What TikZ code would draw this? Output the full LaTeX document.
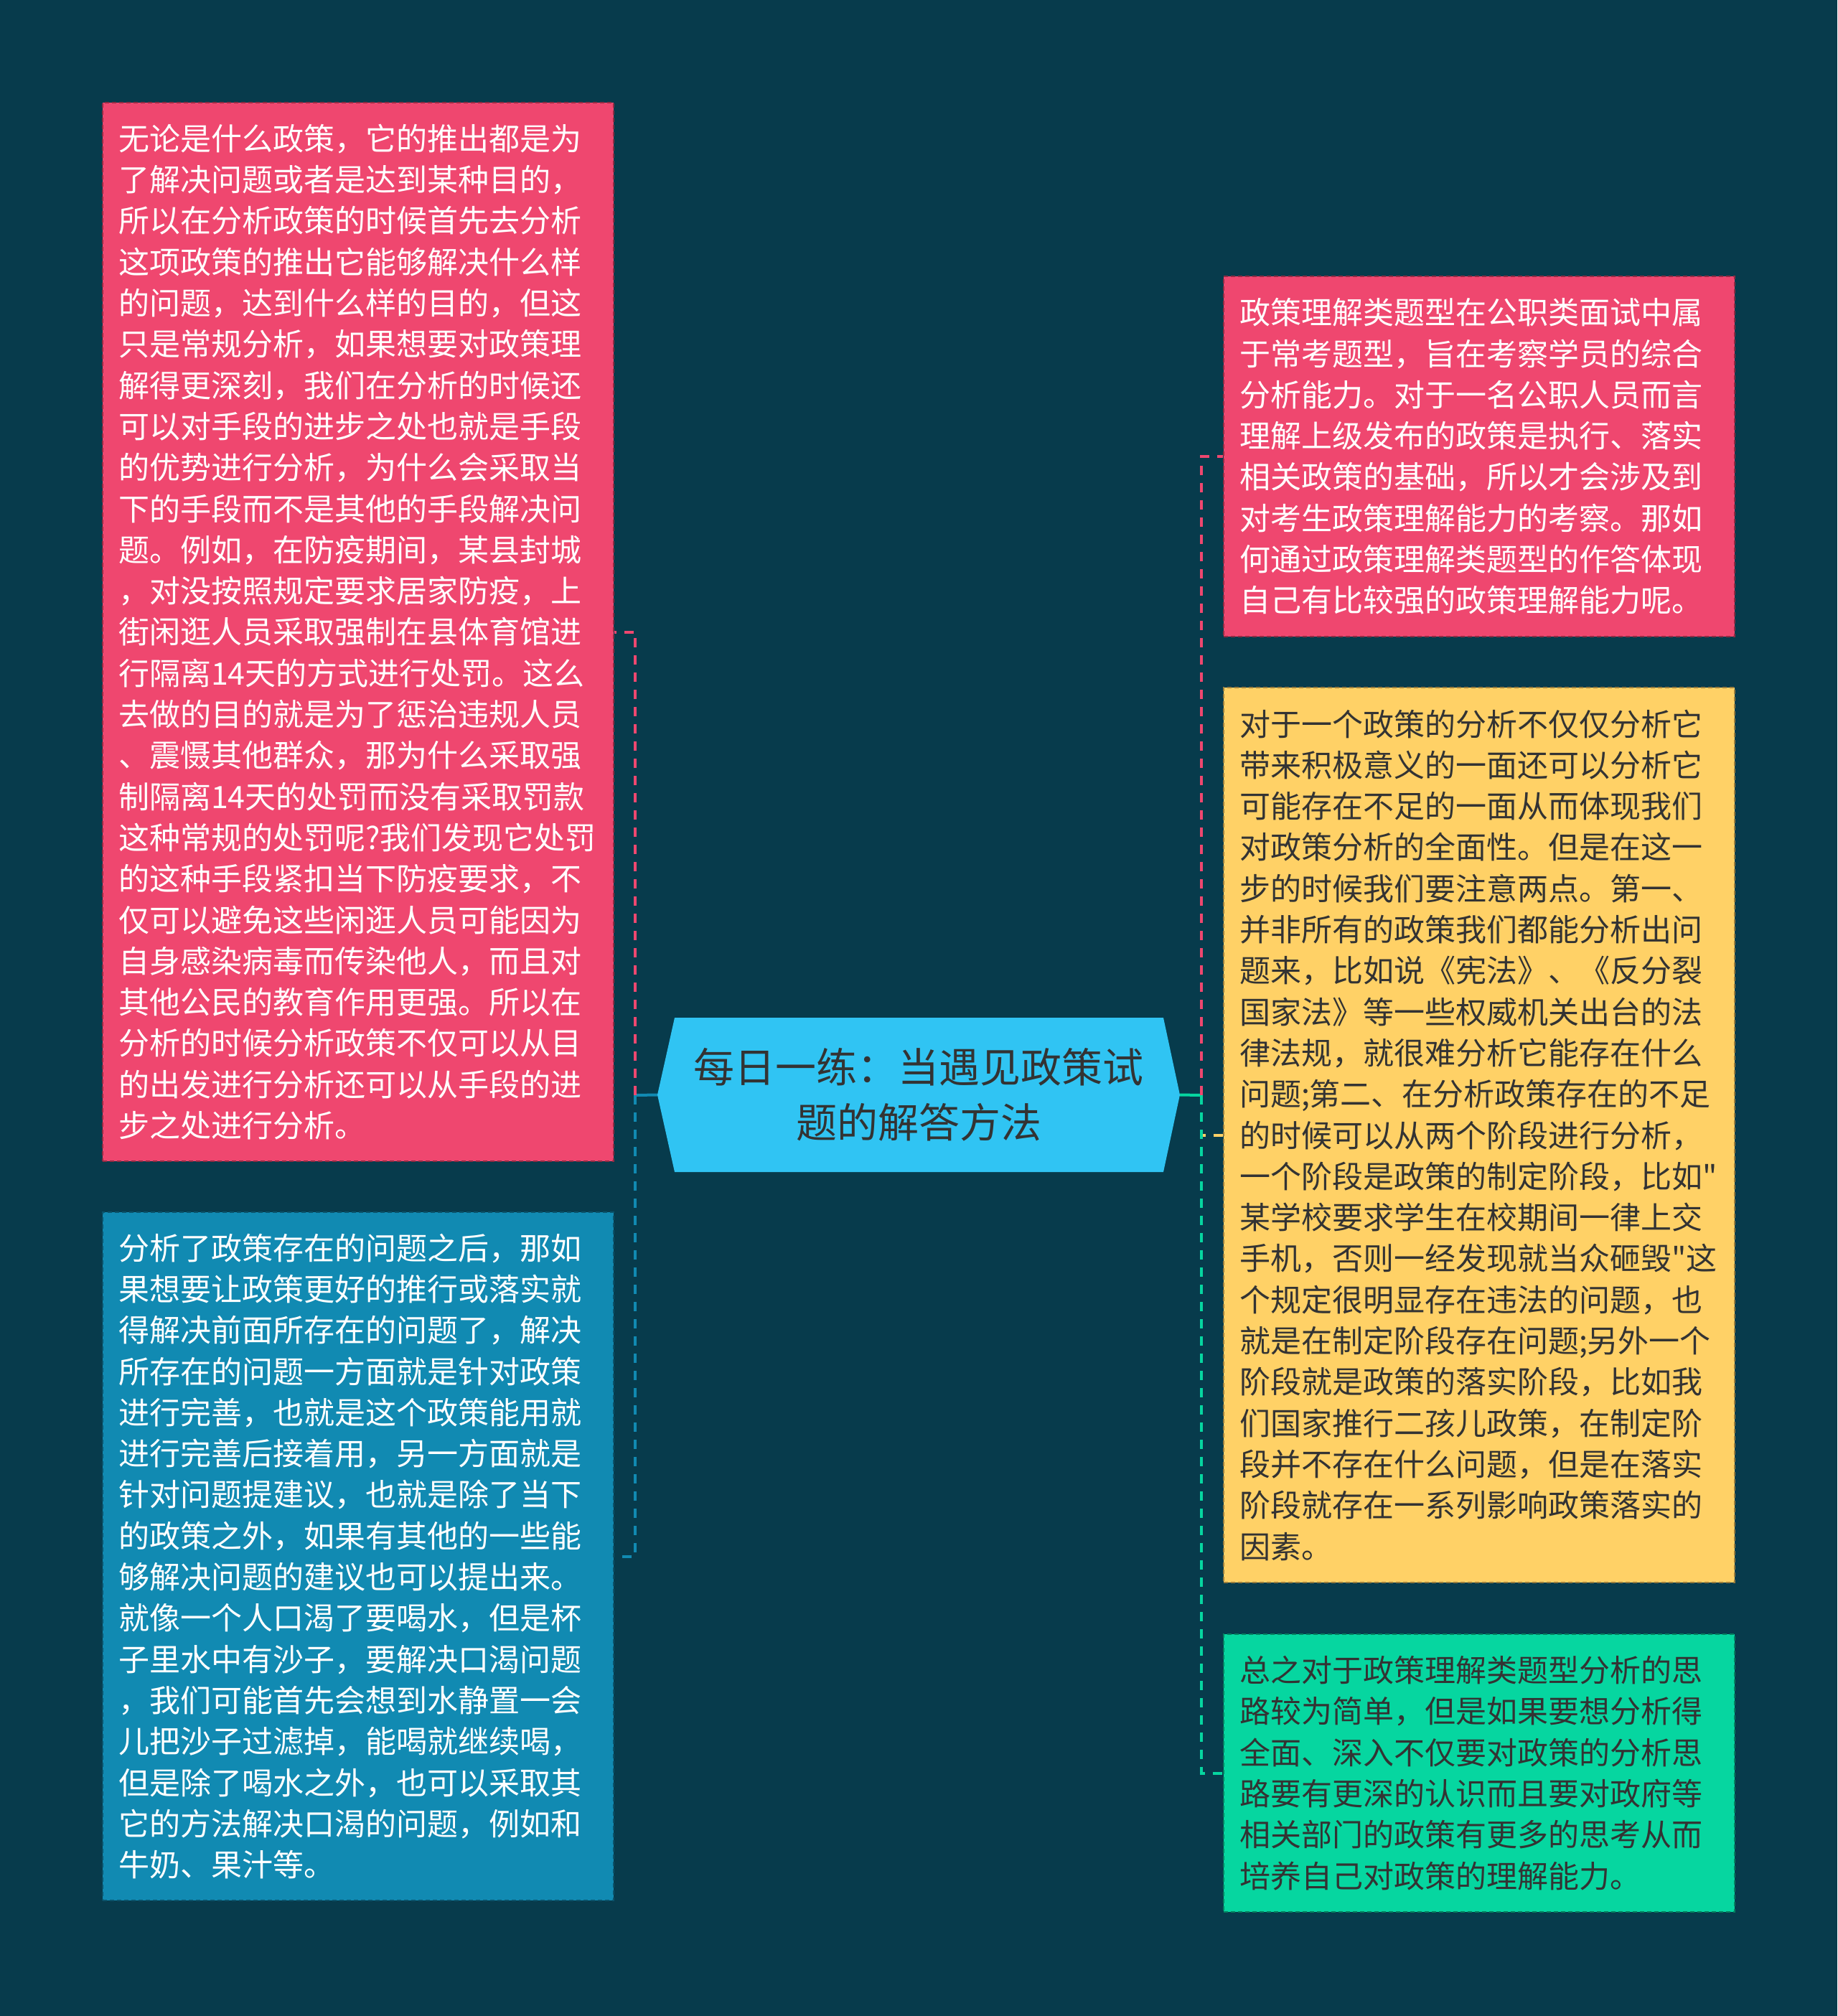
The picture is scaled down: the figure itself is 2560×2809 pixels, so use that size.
\documentclass[tikz,border=0pt]{standalone}
\usepackage{fontspec}
\newfontfamily\zhfont{Noto Sans CJK SC}
\definecolor{cbg}{HTML}{073B4C}
\definecolor{cpink}{HTML}{EF476F}
\definecolor{cyellow}{HTML}{FFD166}
\definecolor{cgreen}{HTML}{06D6A0}
\definecolor{cblue}{HTML}{118AB2}
\definecolor{csky}{HTML}{30C4F3}
\definecolor{ctext}{HTML}{333333}
\begin{document}
\begin{tikzpicture}[x=1pt,y=-1pt,
	box/.style={rectangle,inner xsep=22pt,inner ysep=0pt,text width=668pt,align=left,
		font=\zhfont\fontsize{43}{57.3}\selectfont,dash pattern=on 6pt off 4pt,line width=1.5pt},
	pinkbox/.style={box,fill=cpink,draw=cpink!60!black,text=white},
	bluebox/.style={box,fill=cblue,draw=cblue!60!black,text=white},
	yellowbox/.style={box,fill=cyellow,draw=cyellow!60!black,text=ctext},
	greenbox/.style={box,fill=cgreen,draw=cgreen!60!black,text=ctext},
	titlebox/.style={minimum width=728pt,minimum height=215pt,inner sep=0pt,align=center,
		font=\zhfont\fontsize{57}{77}\selectfont,text=ctext,
		path picture={\fill[csky] ([xshift=24pt]path picture bounding box.north west)
			-- ([xshift=-23pt]path picture bounding box.north east)
			-- (path picture bounding box.east)
			-- ([xshift=-23pt]path picture bounding box.south east)
			-- ([xshift=24pt]path picture bounding box.south west)
			-- (path picture bounding box.west) -- cycle;}},
	link/.style={line width=4pt,dash pattern=on 13pt off 11pt},
	stub/.style={line width=4pt}]
	%Nen
	\fill[cbg] (0,0) rectangle (2560,2809);
	%Chu de
	\node[titlebox] (td) at (1280,1525.5) {每日一练：当遇见政策试\\题的解答方法};
	%Khung trai 1
	\node[pinkbox,minimum height=1475pt] (lt) at (499,880.5) {无论是什么政策，它的推出都是为\\
		了解决问题或者是达到某种目的，\\
		所以在分析政策的时候首先去分析\\
		这项政策的推出它能够解决什么样\\
		的问题，达到什么样的目的，但这\\
		只是常规分析，如果想要对政策理\\
		解得更深刻，我们在分析的时候还\\
		可以对手段的进步之处也就是手段\\
		的优势进行分析，为什么会采取当\\
		下的手段而不是其他的手段解决问\\
		题。例如，在防疫期间，某县封城\\
		，对没按照规定要求居家防疫，上\\
		街闲逛人员采取强制在县体育馆进\\
		行隔离14天的方式进行处罚。这么\\
		去做的目的就是为了惩治违规人员\\
		、震慑其他群众，那为什么采取强\\
		制隔离14天的处罚而没有采取罚款\\
		这种常规的处罚呢?我们发现它处罚\\
		的这种手段紧扣当下防疫要求，不\\
		仅可以避免这些闲逛人员可能因为\\
		自身感染病毒而传染他人，而且对\\
		其他公民的教育作用更强。所以在\\
		分析的时候分析政策不仅可以从目\\
		的出发进行分析还可以从手段的进\\
		步之处进行分析。};
	%Khung trai 2
	\node[bluebox,minimum height=959pt] (lb) at (499,2168.5) {分析了政策存在的问题之后，那如\\
		果想要让政策更好的推行或落实就\\
		得解决前面所存在的问题了，解决\\
		所存在的问题一方面就是针对政策\\
		进行完善，也就是这个政策能用就\\
		进行完善后接着用，另一方面就是\\
		针对问题提建议，也就是除了当下\\
		的政策之外，如果有其他的一些能\\
		够解决问题的建议也可以提出来。\\
		就像一个人口渴了要喝水，但是杯\\
		子里水中有沙子，要解决口渴问题\\
		，我们可能首先会想到水静置一会\\
		儿把沙子过滤掉，能喝就继续喝，\\
		但是除了喝水之外，也可以采取其\\
		它的方法解决口渴的问题，例如和\\
		牛奶、果汁等。};
	%Khung phai 1
	\node[pinkbox,minimum height=502pt] (rt) at (2061,636) {政策理解类题型在公职类面试中属\\
		于常考题型，旨在考察学员的综合\\
		分析能力。对于一名公职人员而言\\
		理解上级发布的政策是执行、落实\\
		相关政策的基础，所以才会涉及到\\
		对考生政策理解能力的考察。那如\\
		何通过政策理解类题型的作答体现\\
		自己有比较强的政策理解能力呢。};
	%Khung phai 2
	\node[yellowbox,minimum height=1247pt] (rm) at (2061,1581.5) {对于一个政策的分析不仅仅分析它\\
		带来积极意义的一面还可以分析它\\
		可能存在不足的一面从而体现我们\\
		对政策分析的全面性。但是在这一\\
		步的时候我们要注意两点。第一、\\
		并非所有的政策我们都能分析出问\\
		题来，比如说《宪法》、《反分裂\\
		国家法》等一些权威机关出台的法\\
		律法规，就很难分析它能存在什么\\
		问题;第二、在分析政策存在的不足\\
		的时候可以从两个阶段进行分析，\\
		一个阶段是政策的制定阶段，比如"\\
		某学校要求学生在校期间一律上交\\
		手机，否则一经发现就当众砸毁"这\\
		个规定很明显存在违法的问题，也\\
		就是在制定阶段存在问题;另外一个\\
		阶段就是政策的落实阶段，比如我\\
		们国家推行二孩儿政策，在制定阶\\
		段并不存在什么问题，但是在落实\\
		阶段就存在一系列影响政策落实的\\
		因素。};
	%Khung phai 3
	\node[greenbox,minimum height=387pt] (rb) at (2061,2470.5) {总之对于政策理解类题型分析的思\\
		路较为简单，但是如果要想分析得\\
		全面、深入不仅要对政策的分析思\\
		路要有更深的认识而且要对政府等\\
		相关部门的政策有更多的思考从而\\
		培养自己对政策的理解能力。};
	%Duong noi trai
	\coordinate (jl) at (885,1526);
	\draw[stub,cblue] (td.west) -- (jl);
	\draw[link,cpink] (jl) |- (lt.east);
	\draw[link,cblue] (jl) |- (lb.east);
	%Duong noi phai
	\coordinate (jr) at (1674,1526);
	\draw[stub,cgreen] (td.east) -- (jr);
	\draw[link,cpink] (jr) |- (rt.west);
	\draw[link,cyellow] (jr) |- (rm.west);
	\draw[link,cgreen] (jr) |- (rb.west);
\end{tikzpicture}
\end{document}
